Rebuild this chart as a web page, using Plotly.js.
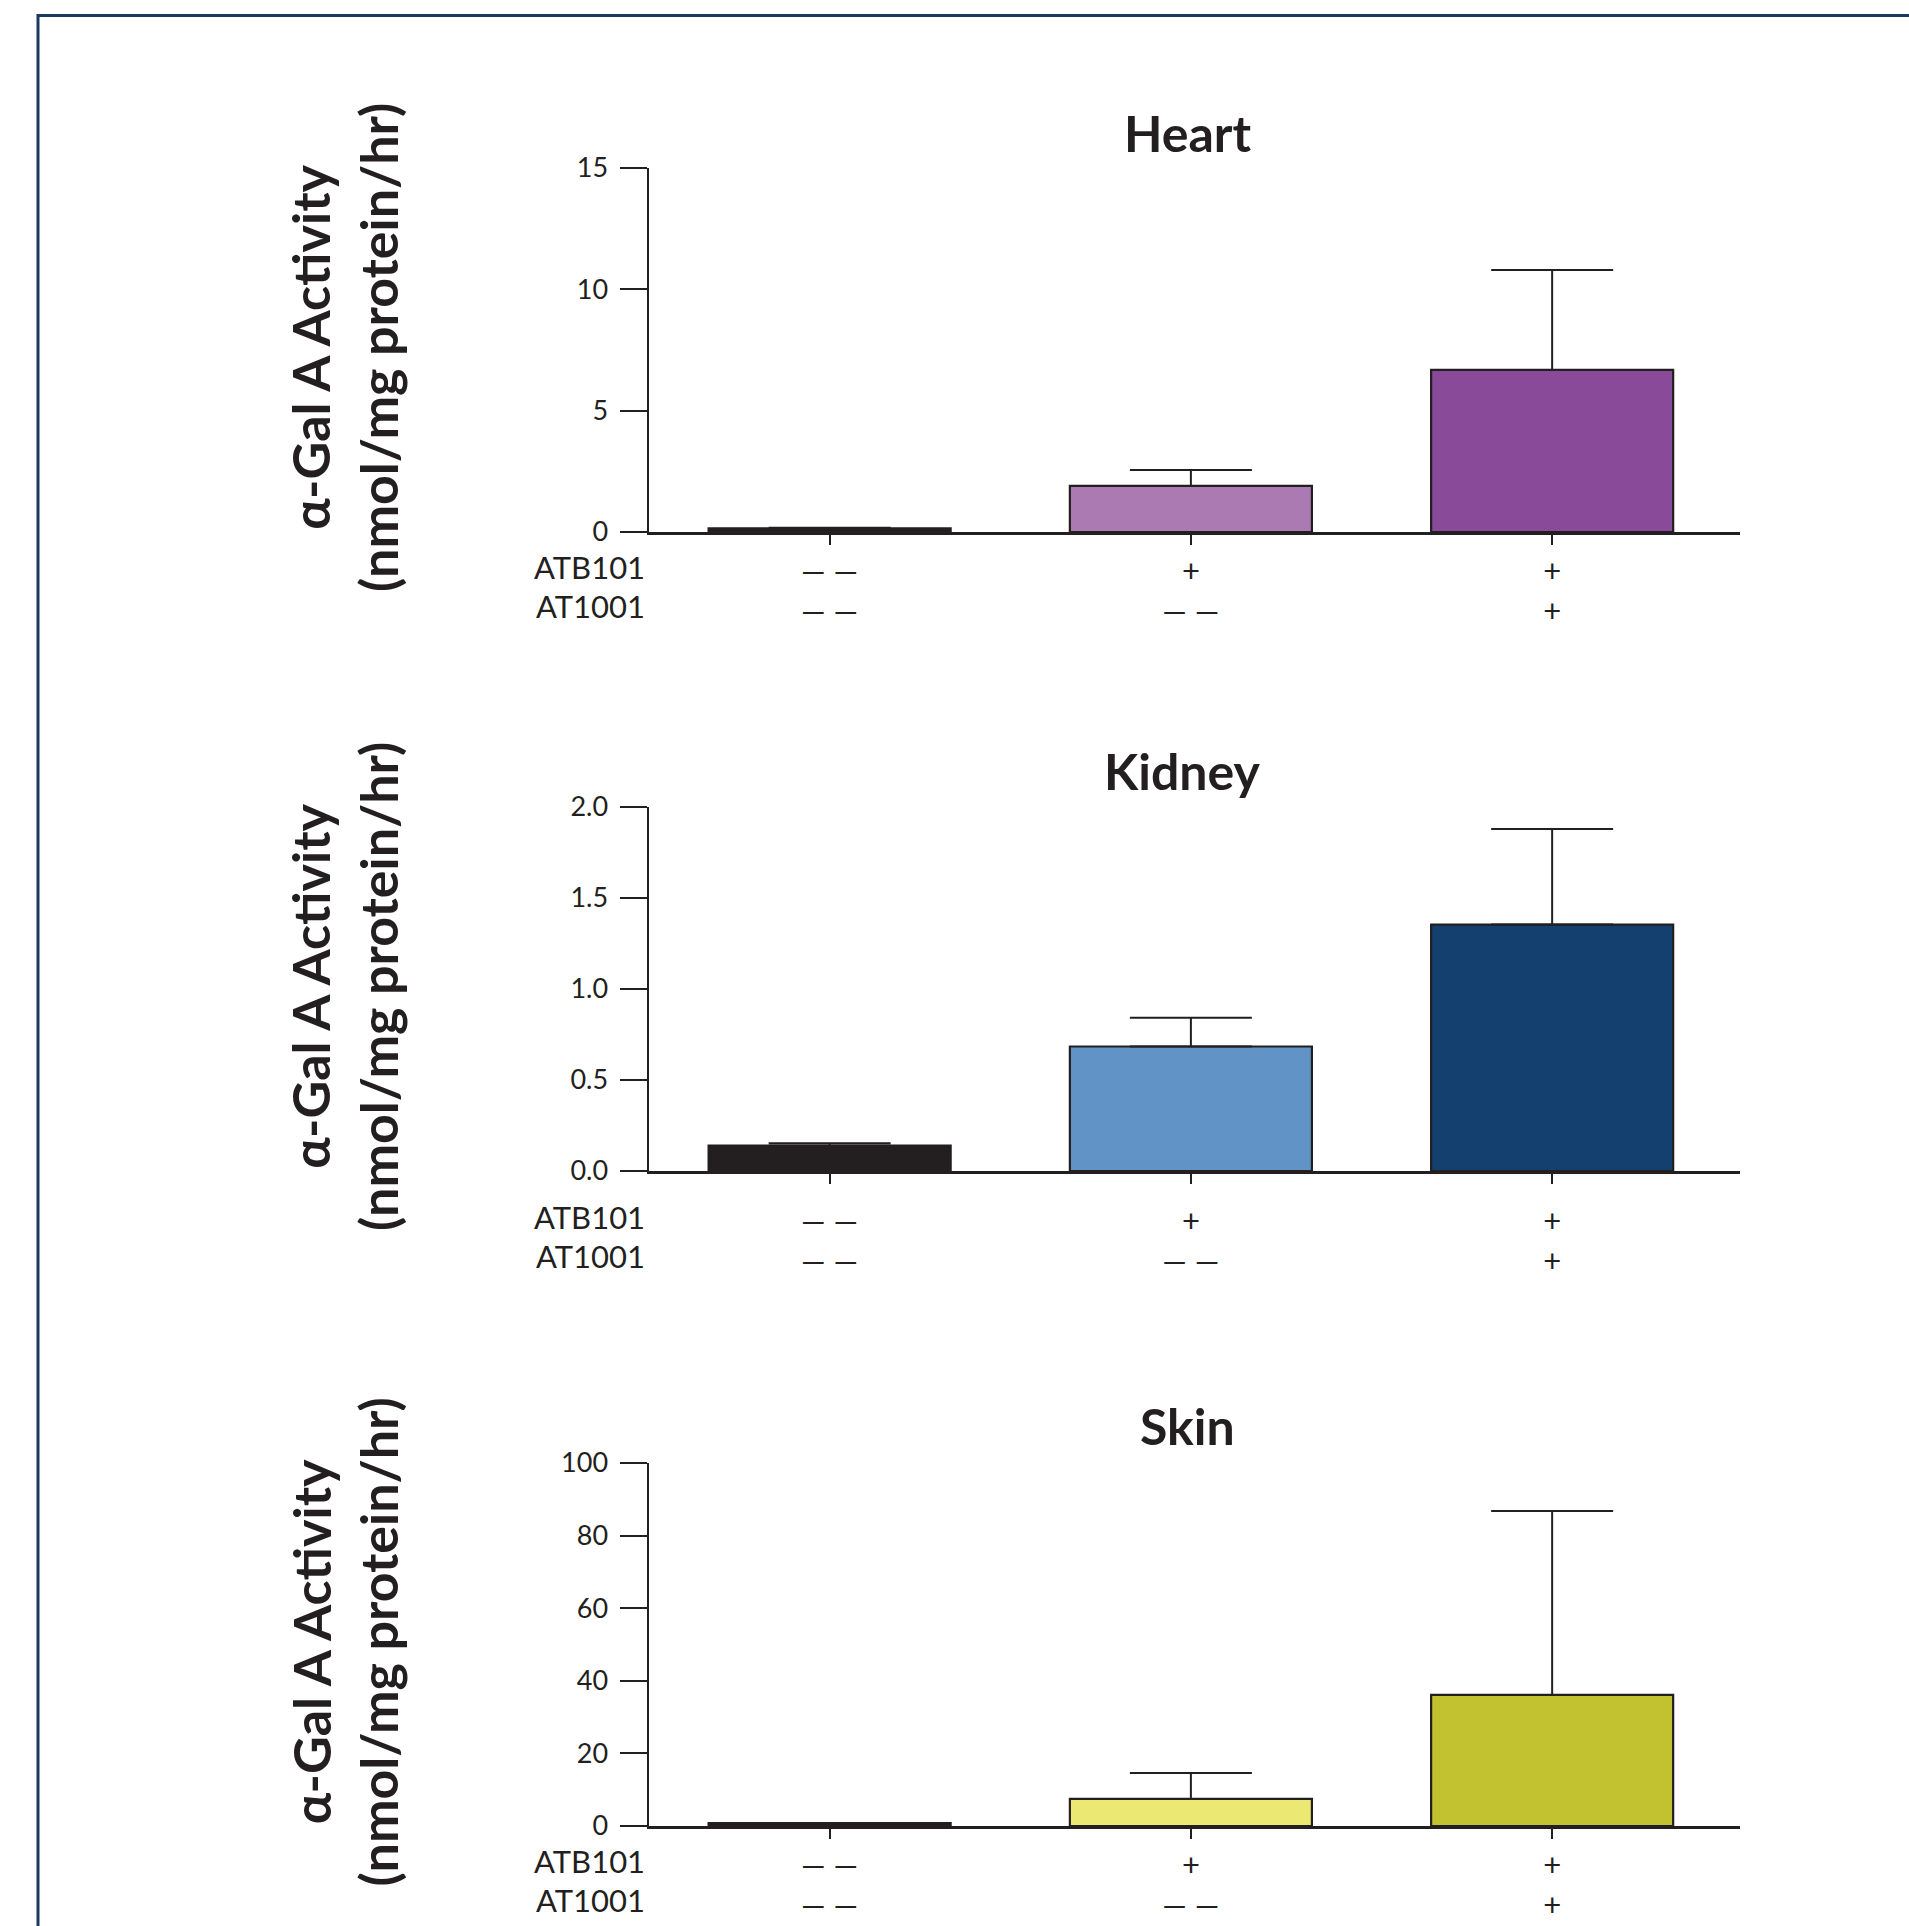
<!DOCTYPE html>
<html>
<head>
<meta charset="utf-8">
<script src="https://cdn.plot.ly/plotly-3.0.1.min.js"></script>
<style>html,body{margin:0;padding:0;background:#fff;}#chart{width:1909px;height:1926px;}</style>
</head>
<body>
<div id="chart"></div>
<script>
// ---- data ----
const groupPositions = [0, 1, 2];
const atb101Row = ['\u2014 \u2014', '+', '+'];
const at1001Row = ['\u2014 \u2014', '\u2014 \u2014', '+'];
const rowNames = ['ATB101', 'AT1001'];
const panelTitles = ['Heart', 'Kidney', 'Skin'];
const yTitleLines = ['\u03b1-Gal A Activity', '(nmol/mg protein/hr)'];

const heartMean = [0.15, 1.90, 6.68];
const heartErr = [0.03, 0.65, 4.12];
const kidneyMean = [0.139, 0.684, 1.354];
const kidneyErr = [0.013, 0.158, 0.525];
const skinMean = [0.8, 7.47, 36.1];
const skinErr = [0.0, 7.1, 50.7];

const heartColors = ['#231f20', '#ac7ab3', '#894b99'];
const kidneyColors = ['#231f20', '#6193c7', '#13406e'];
const skinColors = ['#231f20', '#ebe873', '#c2c130'];

const heartTicks = [0, 5, 10, 15];
const kidneyTicks = [0, 0.5, 1.0, 1.5, 2.0];
const skinTicks = [0, 20, 40, 60, 80, 100];
const yRanges = [[0, 15], [0, 2], [0, 100]];

// ---- layout helpers ----
const W = 1909, H = 1926;
const px = v => v / W;
const py = v => 1 - v / H;
const INK = '#231f20';

const panels = [
  {mean: heartMean, err: heartErr, colors: heartColors, ticks: heartTicks, fmt: '', top: 168, bottom: 532, titleX: 1187, titleY: 133, rowShift: 0},
  {mean: kidneyMean, err: kidneyErr, colors: kidneyColors, ticks: kidneyTicks, fmt: '.1f', top: 807, bottom: 1171, titleX: 1182, titleY: 771, rowShift: 11},
  {mean: skinMean, err: skinErr, colors: skinColors, ticks: skinTicks, fmt: '', top: 1463, bottom: 1826, titleX: 1187, titleY: 1426, rowShift: 0}
];

const tickText = groupPositions.map((_, i) => atb101Row[i] + '<br>' + at1001Row[i]);

const data = [];
const layout = {
  width: W, height: H,
  margin: {l: 0, r: 0, t: 0, b: 0},
  paper_bgcolor: '#ffffff',
  plot_bgcolor: '#ffffff',
  showlegend: false,
  font: {family: 'Lato, "Open Sans", sans-serif', color: INK},
  annotations: [],
  shapes: [{
    type: 'rect', xref: 'paper', yref: 'paper', layer: 'above',
    x0: px(38), x1: 1.02, y0: -0.02, y1: py(15.5),
    line: {color: '#1c3a5d', width: 3}, fillcolor: 'rgba(0,0,0,0)'
  }]
};

panels.forEach((p, k) => {
  const sfx = k === 0 ? '' : String(k + 1);
  data.push({
    type: 'bar',
    x: groupPositions,
    y: p.mean,
    width: 0.67,
    marker: {color: p.colors, line: {color: INK, width: 2.2}},
    error_y: {type: 'data', symmetric: false, array: p.err, arrayminus: p.mean.map(() => 0),
              color: INK, thickness: 2, width: 61},
    xaxis: 'x' + sfx, yaxis: 'y' + sfx,
    hoverinfo: 'y'
  });
  layout['xaxis' + sfx] = {
    domain: [px(649), px(1740)],
    anchor: 'y' + sfx,
    range: [-0.5, 2.52],
    showgrid: false, zeroline: false,
    showline: true, linecolor: INK, linewidth: 2.5,
    ticks: 'outside', ticklen: 10, tickwidth: 2, tickcolor: INK,
    tickvals: groupPositions, ticktext: tickText,
    tickfont: {family: 'Lato, sans-serif', size: 31, color: INK},
    ticklabelstandoff: p.rowShift,
    fixedrange: true
  };
  layout['yaxis' + sfx] = {
    domain: [py(p.bottom), py(p.top)],
    anchor: 'x' + sfx,
    range: yRanges[k],
    showgrid: false, zeroline: false,
    showline: true, linecolor: INK, linewidth: 2.5,
    ticks: 'outside', ticklen: 27, tickwidth: 2, tickcolor: INK,
    tickvals: p.ticks, tickformat: p.fmt,
    tickfont: {family: 'Lato, sans-serif', size: 27, color: INK},
    ticklabelstandoff: 6,
    fixedrange: true
  };
  // panel title
  layout.annotations.push({
    xref: 'paper', yref: 'paper', x: px(p.titleX), y: py(p.titleY),
    xanchor: 'center', yanchor: 'middle', showarrow: false,
    text: '<b>' + panelTitles[k] + '</b>',
    font: {family: 'Lato, sans-serif', size: 50, color: INK}
  });
  // y-axis title (two lines)
  layout.annotations.push({
    xref: 'paper', yref: 'paper', x: px(344), y: py((p.top + p.bottom) / 2 - 2),
    xanchor: 'center', yanchor: 'middle', showarrow: false, textangle: -90,
    text: '<b>' + yTitleLines.join('<br>') + '</b>',
    font: {family: 'Lato, sans-serif', size: 52, color: INK}
  });
  // row labels
  rowNames.forEach((nm, r) => {
    layout.annotations.push({
      xref: 'paper', yref: 'paper', x: px(647), y: py(p.bottom + 35 + p.rowShift + r * 39),
      xanchor: 'right', yanchor: 'middle', showarrow: false,
      text: nm,
      font: {family: 'Lato, sans-serif', size: 31, color: INK}
    });
  });
});

Plotly.newPlot('chart', data, layout, {displayModeBar: false, staticPlot: true});
</script>
</body>
</html>
